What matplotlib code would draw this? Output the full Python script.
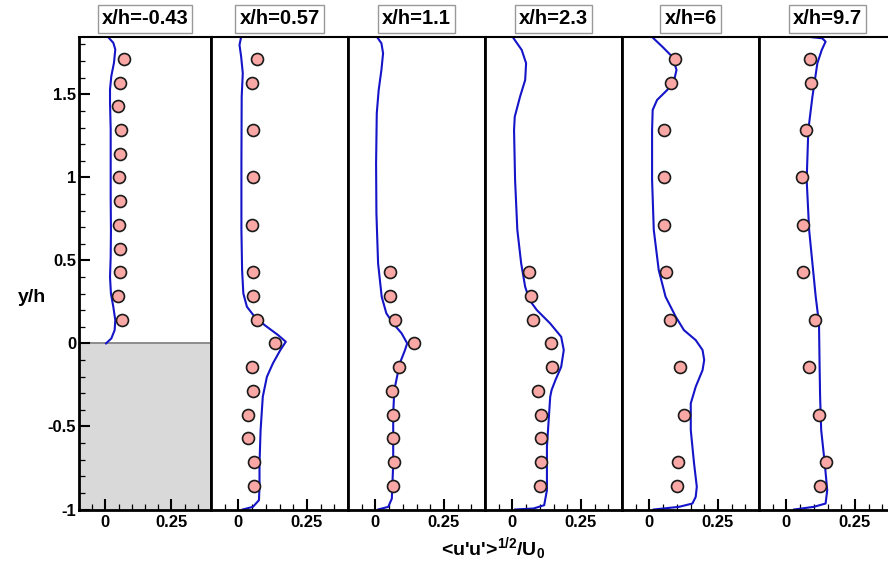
import matplotlib
matplotlib.use("Agg")
import matplotlib.pyplot as plt
from matplotlib.ticker import MultipleLocator, FuncFormatter

plt.rcParams['font.family'] = ['Liberation Sans', 'DejaVu Sans']
plt.rcParams['font.weight'] = 'bold'
plt.rcParams['axes.unicode_minus'] = False
plt.rcParams['mathtext.fontset'] = 'custom'
plt.rcParams['mathtext.rm'] = 'Liberation Sans:bold'
plt.rcParams['mathtext.bf'] = 'Liberation Sans:bold'
plt.rcParams['mathtext.it'] = 'Liberation Sans:bold'

titles = ["x/h=-0.43", "x/h=0.57", "x/h=1.1", "x/h=2.3", "x/h=6", "x/h=9.7"]

# experimental points (x = <u'u'>^1/2/U0, y = y/h)
exp1_x = [0.069, 0.054, 0.048, 0.058, 0.055, 0.053, 0.055, 0.053, 0.054, 0.055, 0.049, 0.063]
exp1_y = [1.714, 1.571, 1.429, 1.286, 1.143, 1.0, 0.857, 0.714, 0.571, 0.429, 0.286, 0.143]

exp2_x = [0.069, 0.049, 0.052, 0.052, 0.049, 0.054, 0.052, 0.069, 0.132, 0.048, 0.052, 0.036, 0.036, 0.056, 0.056]
exp2_y = [1.714, 1.571, 1.286, 1.0, 0.714, 0.429, 0.286, 0.143, 0.0, -0.143, -0.286, -0.429, -0.571, -0.714, -0.857]

exp3_x = [0.053, 0.053, 0.072, 0.141, 0.087, 0.059, 0.065, 0.066, 0.067, 0.064]
exp3_y = [0.429, 0.286, 0.143, 0.0, -0.143, -0.286, -0.429, -0.571, -0.714, -0.857]

exp4_x = [0.059, 0.067, 0.075, 0.142, 0.146, 0.093, 0.103, 0.105, 0.103, 0.099]
exp4_y = [0.429, 0.286, 0.143, 0.0, -0.143, -0.286, -0.429, -0.571, -0.714, -0.857]

exp5_x = [0.092, 0.078, 0.054, 0.054, 0.054, 0.061, 0.077, 0.110, 0.126, 0.103, 0.102]
exp5_y = [1.714, 1.571, 1.286, 1.0, 0.714, 0.429, 0.143, -0.143, -0.429, -0.714, -0.857]

exp6_x = [0.087, 0.091, 0.073, 0.058, 0.059, 0.059, 0.104, 0.083, 0.119, 0.143, 0.123]
exp6_y = [1.714, 1.571, 1.286, 1.0, 0.714, 0.429, 0.143, -0.143, -0.429, -0.714, -0.857]

# simulation profiles
sim1_x = [0.0025, 0.0225, 0.035, 0.0375, 0.03, 0.021, 0.0175, 0.02, 0.021, 0.02, 0.02, 0.02,
          0.0175, 0.0175, 0.0225, 0.0325, 0.0375, 0.03, 0.01]
sim1_y = [0.0, 0.03, 0.08, 0.14, 0.22, 0.30, 0.40, 0.52, 0.68, 0.88, 1.08, 1.29,
          1.45, 1.53, 1.61, 1.69, 1.77, 1.81, 1.845]

sim2_x = [0.016, 0.053, 0.075, 0.077, 0.077, 0.081, 0.089, 0.104, 0.126, 0.153, 0.173, 0.145,
          0.096, 0.059, 0.031, 0.018, 0.0135, 0.011, 0.011, 0.012, 0.016, 0.010, 0.004, 0.010]
sim2_y = [-1.0, -0.984, -0.944, -0.863, -0.723, -0.522, -0.321, -0.201, -0.120, -0.040, 0.010, 0.050,
          0.110, 0.161, 0.221, 0.301, 0.442, 0.683, 1.084, 1.486, 1.627, 1.727, 1.797, 1.845]

sim3_x = [0.01, 0.047, 0.06, 0.065, 0.065, 0.069, 0.089, 0.108, 0.116, 0.096, 0.065, 0.040,
          0.023, 0.0098, 0.0037, 0.0025, 0.005, 0.012, 0.022, 0.028, 0.022, 0.006]
sim3_y = [-1.0, -0.984, -0.934, -0.723, -0.422, -0.281, -0.120, -0.040, 0.0, 0.060, 0.120, 0.181,
          0.281, 0.482, 0.783, 1.084, 1.386, 1.526, 1.647, 1.747, 1.807, 1.845]

sim4_x = [0.01, 0.077, 0.116, 0.126, 0.126, 0.138, 0.143, 0.157, 0.178, 0.1875, 0.178, 0.138,
          0.089, 0.0625, 0.0466, 0.032, 0.018, 0.0098, 0.006, 0.0086, 0.028, 0.0466, 0.050, 0.034, 0.001]
sim4_y = [-1.0, -0.994, -0.974, -0.884, -0.622, -0.321, -0.281, -0.221, -0.141, -0.040, 0.040, 0.120,
          0.201, 0.261, 0.341, 0.482, 0.683, 0.984, 1.285, 1.365, 1.486, 1.586, 1.687, 1.767, 1.845]

sim5_x = [0.016, 0.108, 0.157, 0.169, 0.173, 0.163, 0.151, 0.151, 0.169, 0.194, 0.20, 0.194,
          0.169, 0.126, 0.096, 0.059, 0.034, 0.016, 0.0098, 0.0098, 0.012, 0.028, 0.065, 0.089,
          0.099, 0.083, 0.047, 0.0098]
sim5_y = [-1.0, -0.984, -0.964, -0.924, -0.863, -0.723, -0.522, -0.361, -0.261, -0.161, -0.100, -0.040,
          0.020, 0.080, 0.161, 0.281, 0.442, 0.683, 0.984, 1.285, 1.406, 1.466, 1.526, 1.576,
          1.647, 1.727, 1.787, 1.845]

sim6_x = [0.028, 0.10, 0.143, 0.149, 0.14, 0.127, 0.123, 0.121, 0.119, 0.107, 0.095, 0.083,
          0.074, 0.080, 0.095, 0.113, 0.129, 0.143, 0.131, 0.076, 0.004]
sim6_y = [-1.0, -0.984, -0.964, -0.884, -0.723, -0.522, -0.321, -0.120, 0.120, 0.281, 0.482, 0.683,
          0.984, 1.285, 1.486, 1.687, 1.767, 1.817, 1.837, 1.847, 1.851]

exp_x = [exp1_x, exp2_x, exp3_x, exp4_x, exp5_x, exp6_x]
exp_y = [exp1_y, exp2_y, exp3_y, exp4_y, exp5_y, exp6_y]
sim_x = [sim1_x, sim2_x, sim3_x, sim4_x, sim5_x, sim6_x]
sim_y = [sim1_y, sim2_y, sim3_y, sim4_y, sim5_y, sim6_y]

W, H = 888, 567
fig = plt.figure(figsize=(W / 100, H / 100), dpi=100)

lefts = [79, 211, 348, 485, 622, 759]
widths = [132, 137, 137, 137, 137, 137]
top_px, bot_px = 37, 509.5

line_color = '#1414c8'
mk_face = '#f9a8a6'

axes = []
for i in range(6):
    ax = fig.add_axes([lefts[i] / W, 1 - bot_px / H, widths[i] / W, (bot_px - top_px) / H])
    axes.append(ax)
    ax.set_xlim(-0.1, 0.4)
    ax.set_ylim(-1, 1.845)
    for s in ax.spines.values():
        s.set_linewidth(2.0)
        s.set_color('black')
    ax.spines['top'].set_linewidth(1.5)
    ax.xaxis.set_major_locator(MultipleLocator(0.25))
    ax.xaxis.set_minor_locator(MultipleLocator(0.05))
    ax.xaxis.set_major_formatter(FuncFormatter(lambda v, p: '%g' % round(v, 3)))
    ax.tick_params(axis='x', which='major', direction='in', length=8, width=1.5,
                   labelsize=12, pad=4, top=False)
    ax.tick_params(axis='x', which='minor', direction='in', length=4, width=0.9, top=False)
    if i == 0:
        ax.yaxis.set_major_locator(MultipleLocator(0.5))
        ax.yaxis.set_minor_locator(MultipleLocator(0.1))
        ax.yaxis.set_major_formatter(FuncFormatter(lambda v, p: '%g' % round(v, 3)))
        ax.tick_params(axis='y', which='major', direction='in', length=8, width=1.5,
                       labelsize=12, pad=2, right=False)
        ax.tick_params(axis='y', which='minor', direction='in', length=4, width=0.9, right=False)
        ax.axhspan(-1, 0, color='#d9d9d9', zorder=0)
        ax.axhline(0, color='#8c8c8c', lw=1.4, zorder=1)
    else:
        ax.tick_params(axis='y', which='both', left=False, right=False, labelleft=False)
    for lab in ax.get_xticklabels() + ax.get_yticklabels():
        lab.set_fontweight('bold')

    ax.plot(sim_x[i], sim_y[i], color=line_color, lw=1.5, zorder=2, clip_on=True)
    ax.plot(exp_x[i], exp_y[i], 'o', ms=8.6, mfc=mk_face, mec='#1a1a1a', mew=1.2,
            zorder=3, clip_on=False)

    cx = (lefts[i] + widths[i] / 2) / W
    fig.text(cx, 1 - 19 / H, titles[i], ha='center', va='center', fontsize=14.5,
             fontweight='bold',
             bbox=dict(boxstyle='square,pad=0.2', fc='white', ec='#999999', lw=1.0))

fig.text(32 / W, 1 - 297 / H, 'y/h', ha='center', va='center', fontsize=14, fontweight='bold')
fig.text(493 / W, 1 - 549 / H, r"<u'u'>$^{1/2}$/U$_{0}$", ha='center', va='center',
         fontsize=14, fontweight='bold')

fig.savefig('out.png', dpi=100)
